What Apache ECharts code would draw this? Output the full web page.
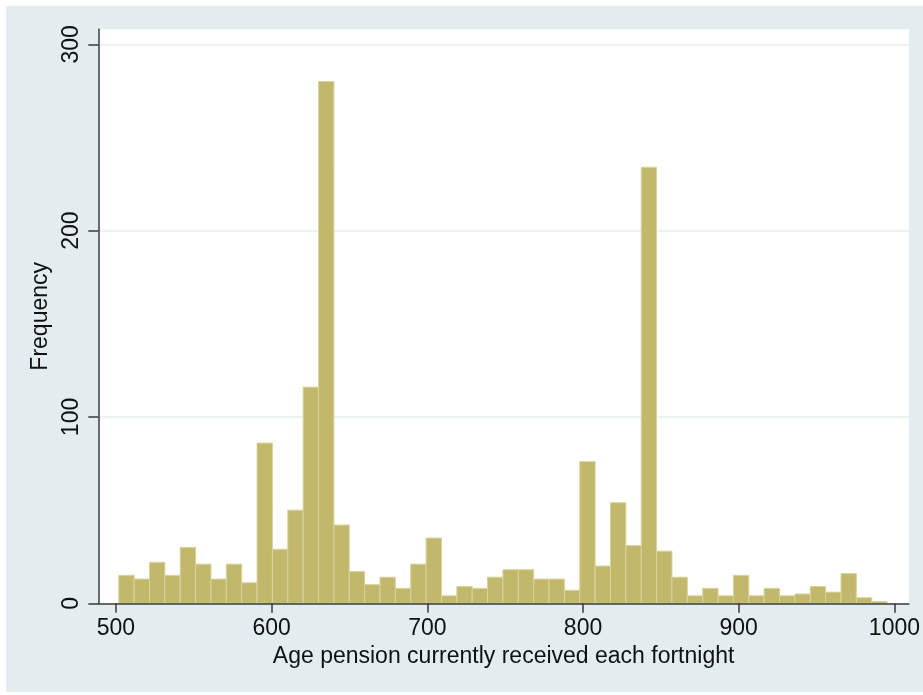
<!DOCTYPE html>
<html>
<head>
<meta charset="utf-8">
<script src="https://cdn.jsdelivr.net/npm/echarts@6/dist/echarts.min.js"></script>
<style>
html,body{margin:0;padding:0;background:#ffffff;width:923px;height:695px;overflow:hidden;}
#c{position:absolute;left:6px;top:6px;width:917px;height:686px;}
</style>
</head>
<body>
<div id="c"></div>
<script>
// Histogram bins: start of first bin and bin width (pension amount)
const binStart = 501.8;
const binWidth = 9.87;
// Frequency of each bin (50 bins)
const counts = [15, 13, 22, 15, 30, 21, 13, 21, 11, 86,
                29, 50, 116, 280, 42, 17, 10, 14, 8, 21,
                35, 4, 9, 8, 14, 18, 18, 13, 13, 7,
                76, 20, 54, 31, 234, 28, 14, 4, 8, 4,
                15, 4, 8, 4, 5, 9, 6, 16, 3, 1];
const xTicks = [500, 600, 700, 800, 900, 1000];
const yTicks = [0, 100, 200, 300];
const xTitle = 'Age pension currently received each fortnight';
const yTitle = 'Frequency';

const binData = counts.map((c, i) => [binStart + i * binWidth, binStart + (i + 1) * binWidth, c]);

const font = 'Liberation Sans, Arial, Helvetica, sans-serif';
const chart = echarts.init(document.getElementById('c'), null, {renderer: 'canvas'});
chart.setOption({
  backgroundColor: '#e3ecef',
  animation: false,
  grid: {
    left: 92.3, top: 23.3, right: 13, bottom: 88.7,
    show: true, backgroundColor: '#ffffff', borderWidth: 0
  },
  xAxis: {
    type: 'value', min: 488.65, max: 1009.3, z: 3,
    name: xTitle, nameLocation: 'middle', nameGap: 40,
    nameTextStyle: {fontFamily: font, fontSize: 23, color: '#111'},
    axisLine: {show: true, onZero: false, lineStyle: {color: '#3a3a3a', width: 1.5}},
    axisTick: {show: true, length: 9.5, customValues: xTicks, lineStyle: {color: '#3a3a3a', width: 1.5}},
    axisLabel: {customValues: xTicks, margin: 14, fontFamily: font, fontSize: 23, color: '#111',
                formatter: function (v) { return String(v); }},
    splitLine: {show: false}
  },
  yAxis: {
    type: 'value', min: 0, max: 308.05,
    name: yTitle, nameLocation: 'middle', nameGap: 42, nameRotate: 90,
    nameTextStyle: {fontFamily: font, fontSize: 23, color: '#111'},
    axisLine: {show: true, lineStyle: {color: '#3a3a3a', width: 1.5}},
    axisTick: {show: true, length: 10, customValues: yTicks, lineStyle: {color: '#3a3a3a', width: 1.5}},
    axisLabel: {customValues: yTicks, rotate: 90, margin: 15, fontFamily: font, fontSize: 23, color: '#111',
                formatter: function (v) { return String(v); }},
    splitLine: {show: true, lineStyle: {color: '#e6edf0', width: 1.5}}
  },
  series: [{
    type: 'custom',
    data: binData,
    encode: {x: [0, 1], y: 2},
    renderItem: function (params, api) {
      const p0 = api.coord([api.value(0), api.value(2)]);
      const p1 = api.coord([api.value(1), 0]);
      return {
        type: 'rect',
        shape: {x: p0[0], y: p0[1], width: p1[0] - p0[0], height: p1[1] - p0[1]},
        style: {fill: '#c2b86c', stroke: '#d8d29c', lineWidth: 1}
      };
    }
  }]
});
</script>
</body>
</html>
